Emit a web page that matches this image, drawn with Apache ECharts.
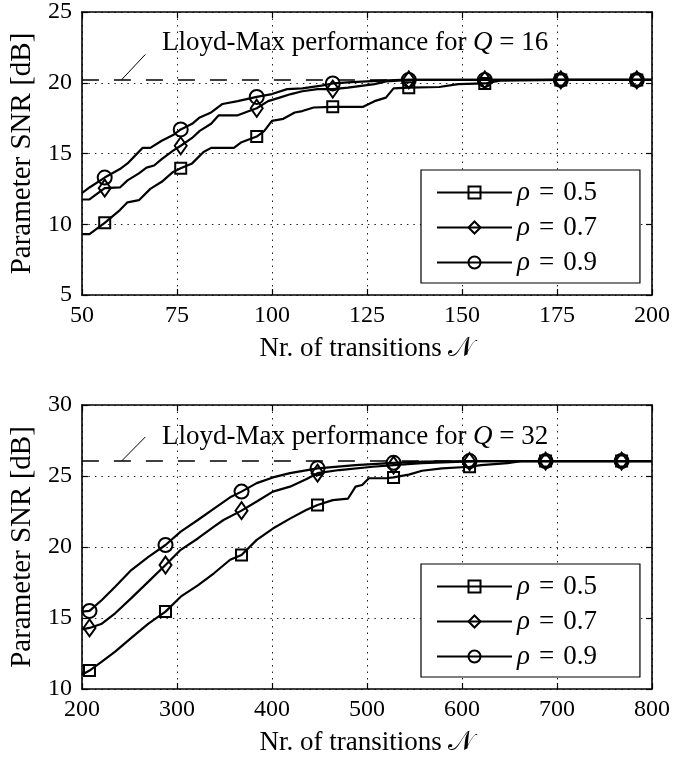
<!DOCTYPE html>
<html>
<head>
<meta charset="utf-8">
<script src="https://cdn.jsdelivr.net/npm/echarts@6/dist/echarts.min.js"></script>
<style>
html,body{margin:0;padding:0;background:#fff}
#main{width:697px;height:760px}
</style>
</head>
<body>
<div id="main"></div>
<script>
var FONT='"Liberation Serif","Times New Roman",serif';

// legend names
var names=['ρ = 0.5','ρ = 0.7','ρ = 0.9'];

// upper panel, Q = 16
var topXTicks=[50,75,100,125,150,175,200];
var topYTicks=[5,10,15,20,25];
var topMarkN=[56,76,96,116,136,156,176,196];
var topLloyd=20.2;
var topN05=[50,52,56,60,62,65,68,71,74,76,79,82,84,90,92,96,98,100,103,106,108,111,116,124,127,130,132,136,144,149,156,160,176,196,200];
var topSnr05=[9.3,9.3,10.1,11.0,11.55,11.7,12.5,13.0,13.7,13.95,14.3,15.1,15.4,15.4,15.8,16.2,16.6,17.3,17.45,17.9,18.0,18.25,18.3,18.3,18.7,18.95,19.6,19.65,19.7,19.9,19.95,20.15,20.2,20.2,20.2];
var topN07=[50,52,56,60,62,65,67,69,71,74,76,79,81,84,86,91,94,96,99,102,105,108,112,116,120,124,127,130,136,156,176,196,200];
var topSnr07=[11.75,11.75,12.55,12.6,13.1,13.6,14.0,14.15,14.6,15.2,15.55,16.1,16.6,17.1,17.7,17.7,18.0,18.2,18.7,18.95,19.2,19.4,19.55,19.55,19.65,19.8,19.9,20.1,20.2,20.2,20.2,20.2,20.2];
var topN09=[50,52,56,60,62,64,66,68,71,74,76,79,81,84,87,91,96,100,104,108,113,116,121,129,134,136,156,176,196,200];
var topSnr09=[12.2,12.6,13.3,13.9,14.3,14.85,15.4,15.4,15.9,16.3,16.7,17.1,17.55,17.9,18.5,18.7,19.0,19.2,19.55,19.6,19.8,19.95,20.05,20.15,20.2,20.2,20.2,20.2,20.2,20.2];

// lower panel, Q = 32
var botXTicks=[200,300,400,500,600,700,800];
var botYTicks=[10,15,20,25,30];
var botMarkN=[208,288,368,448,528,608,688,768];
var botLloyd=26.05;
var botN05=[200,208,221,235,252,270,288,304,322,339,356,368,384,401,419,436,448,464,480,488,495,502,520,528,544,558,579,608,620,648,662,688,768,800];
var botSnr05=[11.0,11.3,11.93,12.63,13.6,14.6,15.45,16.5,17.3,18.15,19.1,19.44,20.5,21.3,22.0,22.6,22.96,23.3,23.4,24.25,24.37,24.84,24.84,24.9,25.1,25.37,25.54,25.65,25.77,25.9,26.05,26.05,26.05,26.05];
var botN07=[200,208,221,235,252,270,288,304,322,339,349,368,384,401,419,436,448,471,506,528,558,608,620,688,768,800];
var botSnr07=[14.2,14.3,14.6,15.33,16.4,17.56,18.73,19.8,20.6,21.43,21.9,22.56,23.2,23.9,24.25,24.77,25.2,25.42,25.65,25.77,25.9,26.02,26.05,26.05,26.05,26.05];
var botN09=[200,208,221,235,252,270,288,304,322,339,356,368,384,401,419,448,488,528,560,608,688,768,800];
var botSnr09=[15.45,15.5,16.27,17.2,18.38,19.3,20.14,21.08,21.9,22.7,23.5,23.9,24.5,24.9,25.2,25.54,25.77,25.93,26.02,26.05,26.05,26.05,26.05];

var symbols=['rect','diamond','circle'];
var symbolSizes=[11,[12,17],14];

var panels=[
  {top:11,q:16,xt:topXTicks,yt:topYTicks,marks:topMarkN,lloyd:topLloyd,
   xs:[topN05,topN07,topN09],ys:[topSnr05,topSnr07,topSnr09],lead:[[60.4,20.2],[66.7,22.0]]},
  {top:405,q:32,xt:botXTicks,yt:botYTicks,marks:botMarkN,lloyd:botLloyd,
   xs:[botN05,botN07,botN09],ys:[botSnr05,botSnr07,botSnr09],lead:[[241.7,26.05],[266.8,27.75]]}
];

var boxLine={color:'#000',width:1.6};
var tickStyle={inside:true,length:6,lineStyle:{color:'#000',width:1.2}};
var labelStyle={fontFamily:FONT,fontSize:24,color:'#000'};
var gridLine={show:true,lineStyle:{color:'#222',width:1,type:[1.5,5]}};

var option={animation:false,backgroundColor:'#fff',grid:[],xAxis:[],yAxis:[],series:[],legend:[],graphic:[]};

panels.forEach(function(p,i){
  var xmin=p.xt[0],xmax=p.xt[p.xt.length-1],xint=p.xt[1]-p.xt[0];
  var ymin=p.yt[0],ymax=p.yt[p.yt.length-1],yint=p.yt[1]-p.yt[0];
  option.grid.push({left:77,right:45,top:p.top,height:284});
  // bottom + top x axes (box with inward ticks)
  option.xAxis.push({gridIndex:i,type:'value',min:xmin,max:xmax,interval:xint,position:'bottom',
    name:'Nr. of transitions 𝒩',nameLocation:'middle',nameGap:40,
    nameTextStyle:{fontFamily:FONT,fontSize:27,color:'#000'},
    axisLine:{onZero:false,lineStyle:boxLine},axisTick:tickStyle,
    axisLabel:Object.assign({margin:9},labelStyle),splitLine:gridLine});
  option.xAxis.push({gridIndex:i,type:'value',min:xmin,max:xmax,interval:xint,position:'top',
    axisLine:{onZero:false,lineStyle:boxLine},axisTick:tickStyle,axisLabel:{show:false},splitLine:{show:false}});
  option.yAxis.push({gridIndex:i,type:'value',min:ymin,max:ymax,interval:yint,position:'left',
    name:'Parameter SNR [dB]',nameLocation:'middle',nameGap:37,
    nameTextStyle:{fontFamily:FONT,fontSize:29,color:'#000'},
    axisLine:{show:true,onZero:false,lineStyle:boxLine},axisTick:tickStyle,
    axisLabel:Object.assign({margin:10},labelStyle),splitLine:gridLine});
  option.yAxis.push({gridIndex:i,type:'value',min:ymin,max:ymax,interval:yint,position:'right',
    axisLine:{show:true,onZero:false,lineStyle:boxLine},axisTick:tickStyle,axisLabel:{show:false},splitLine:{show:false}});

  for(var k=0;k<3;k++){
    var data=p.xs[k].map(function(n,j){
      var item={value:[n,p.ys[k][j]]};
      if(p.marks.indexOf(n)<0) item.symbol='none';
      return item;
    });
    var s={name:names[k],type:'line',xAxisIndex:2*i,yAxisIndex:2*i,data:data,
      symbol:symbols[k],symbolSize:symbolSizes[k],showAllSymbol:true,
      lineStyle:{color:'#000',width:2.2},
      itemStyle:{color:'rgba(255,255,255,0)',borderColor:'#000',borderWidth:2},
      emphasis:{disabled:true},z:3};
    if(k===0){
      s.markLine={silent:true,symbol:'none',label:{show:false},animation:false,
        data:[
          {yAxis:p.lloyd,lineStyle:{color:'#000',width:1.5,type:[17,15]}},
          [{coord:p.lead[0],lineStyle:{color:'#000',width:1,type:'solid'}},{coord:p.lead[1]}]
        ]};
    }
    option.series.push(s);
  }

  option.legend.push({orient:'vertical',left:421,top:p.top+159,
    padding:[9,43,7,15],itemWidth:75,itemHeight:15,itemGap:8,
    backgroundColor:'#fff',borderColor:'#000',borderWidth:1.2,
    textStyle:{fontFamily:FONT,fontSize:27,color:'#000',lineHeight:24,
      rich:{i:{fontFamily:FONT,fontSize:27,fontStyle:'italic',color:'#000',lineHeight:24},
            t:{fontFamily:FONT,fontSize:27,color:'#000',lineHeight:24}}},
    formatter:function(name){return '{i|ρ}{t|\u2004=\u2004'+name.slice(4)+'}';},
    data:names});

  option.graphic.push({type:'text',left:162,top:p.top+18,z:10,
    style:{text:'Lloyd-Max performance for {q|Q} = '+p.q,
      fontFamily:FONT,fontSize:27,fill:'#000',
      rich:{q:{fontFamily:FONT,fontSize:27,fontStyle:'italic',fill:'#000'}}}});
});

var chart=echarts.init(document.getElementById('main'));
chart.setOption(option);
</script>
</body>
</html>
